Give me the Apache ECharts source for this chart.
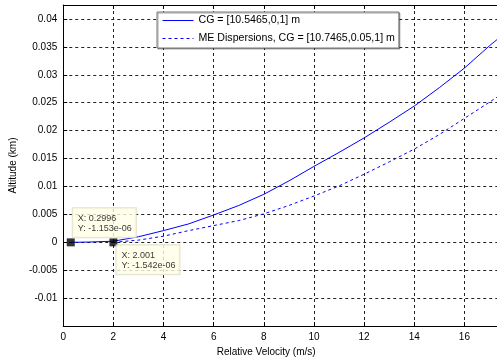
<!DOCTYPE html>
<html>
<head>
<meta charset="utf-8">
<script src="https://cdn.jsdelivr.net/npm/echarts@6/dist/echarts.min.js"></script>
<style>
  html, body { margin: 0; padding: 0; background: #fff; }
  #chart { width: 497px; height: 362px; }
</style>
</head>
<body>
<div id="chart"></div>
<script>
// Nominal CG trajectory: relative velocity (m/s) vs altitude (km)
const cgVelocity = [0.2996, 1, 2, 3, 4, 5, 6, 7, 8, 9, 10, 11, 12, 13, 14, 15, 16, 17, 17.3];
const cgAltitude = [-1.153e-6, 0.00005, 0.0002, 0.001, 0.0021, 0.0033, 0.0049, 0.0066, 0.0086,
                    0.0110, 0.0136, 0.0161, 0.0187, 0.0215, 0.0244, 0.0277, 0.0312, 0.0352, 0.0363];

// ME dispersion case
const meVelocity = [2.001, 3, 4, 5, 6, 7, 8, 9, 10, 11, 12, 13, 14, 15, 16, 17, 17.3];
const meAltitude = [-1.542e-6, 0.0004, 0.0011, 0.0021, 0.0030, 0.0039, 0.0051, 0.0066, 0.0083,
                    0.0101, 0.0122, 0.0144, 0.0167, 0.0193, 0.0222, 0.0251, 0.0260];

// Data tips
const tipX = [0.2996, 2.001];
const tipY = [-1.153e-6, -1.542e-6];
const tipText = ['X: 0.2996\nY: -1.153e-06', 'X: 2.001\nY: -1.542e-06'];

const seriesNames = ['CG = [10.5465,0,1] m', 'ME Dispersions, CG = [10.7465,0.05,1] m'];

// Visible velocity range
const xMin = 0, xMax = 17.3, xStep = 2;
const yMin = -0.015, yMax = 0.0425, yStep = 0.005;

const FONT = "'Liberation Sans', Arial, sans-serif";
const pair = (xs, ys) => xs.map((x, i) => [x, ys[i]]);

const chart = echarts.init(document.getElementById('chart'), null, { renderer: 'canvas' });

const gridLine = { show: true, lineStyle: { color: '#222', type: [3, 3], width: 1 } };

chart.setOption({
  animation: false,
  backgroundColor: '#fff',
  textStyle: { fontFamily: FONT },
  grid: { left: 61, top: 5, bottom: 31, right: 0, containLabel: false },
  legend: {
    orient: 'vertical',
    left: 157,
    top: 12,
    data: seriesNames,
    itemWidth: 31,
    itemHeight: 12,
    itemGap: 7,
    padding: [3, 4, 4, 5],
    backgroundColor: '#fff',
    borderColor: '#777',
    borderWidth: 1,
    shadowColor: 'rgba(0,0,0,0.35)',
    shadowOffsetX: 1,
    shadowOffsetY: 1,
    itemStyle: { opacity: 0 },
    lineStyle: { width: 1 },
    textStyle: { fontFamily: FONT, fontSize: 10.6, color: '#000' }
  },
  xAxis: [
    {
      type: 'value', min: xMin, max: xMax, interval: xStep,
      name: 'Relative Velocity (m/s)', nameLocation: 'middle', nameGap: 15,
      nameTextStyle: { fontFamily: FONT, fontSize: 10, color: '#000', padding: [0, 28, 0, 0] },
      axisLine: { show: true, onZero: false, lineStyle: { color: '#000', width: 1 } },
      axisTick: { show: true, inside: true, length: 4, lineStyle: { color: '#000' } },
      axisLabel: { fontFamily: FONT, fontSize: 10, color: '#000', margin: 6, showMaxLabel: false },
      splitLine: gridLine
    },
    {
      type: 'value', min: xMin, max: xMax, interval: xStep, position: 'top',
      axisLine: { show: true, onZero: false, lineStyle: { color: '#000', width: 1 } },
      axisTick: { show: true, inside: true, length: 4, lineStyle: { color: '#000' } },
      axisLabel: { show: false },
      splitLine: { show: false }
    }
  ],
  yAxis: {
    type: 'value', min: yMin, max: yMax, interval: yStep,
    name: 'Altitude (km)', nameLocation: 'middle', nameGap: 43,
    nameTextStyle: { fontFamily: FONT, fontSize: 10, color: '#000' },
    axisLine: { show: true, onZero: false, lineStyle: { color: '#000', width: 1 } },
    axisTick: { show: true, inside: true, length: 4, lineStyle: { color: '#000' } },
    axisLabel: {
      fontFamily: FONT, fontSize: 10, color: '#000', margin: 6,
      showMinLabel: false, showMaxLabel: false,
      formatter: v => String(Number(v.toFixed(4)))
    },
    splitLine: gridLine
  },
  series: [
    {
      name: seriesNames[0], type: 'line', data: pair(cgVelocity, cgAltitude),
      symbol: 'none', smooth: false,
      lineStyle: { color: '#0000ff', width: 1 },
      itemStyle: { color: '#0000ff' }
    },
    {
      name: seriesNames[1], type: 'line', data: pair(meVelocity, meAltitude),
      symbol: 'none', smooth: false,
      lineStyle: { color: '#0000ff', width: 1, type: [3, 3] },
      itemStyle: { color: '#0000ff' }
    },
    {
      name: 'tips', type: 'scatter', z: 5,
      symbol: 'rect', symbolSize: 8,
      itemStyle: { color: '#000' },
      data: [
        {
          value: [tipX[0], tipY[0]],
          label: { show: true, position: [6, -30], formatter: tipText[0] }
        },
        {
          value: [tipX[1], tipY[1]],
          label: { show: true, position: [7, 7], formatter: tipText[1] }
        }
      ],
      label: {
        fontFamily: FONT, fontSize: 9, lineHeight: 10, color: '#000',
        backgroundColor: '#ffffe6', borderColor: '#d8d8c0', borderWidth: 1,
        padding: [5, 4, 4, 5]
      }
    }
  ]
});
</script>
</body>
</html>
